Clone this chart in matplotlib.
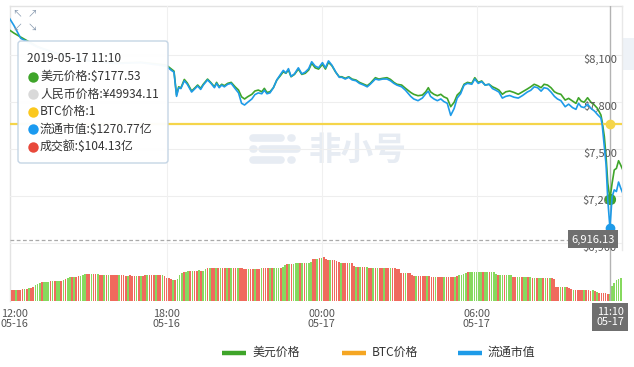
import numpy as np
import matplotlib
matplotlib.use("Agg")
import matplotlib.pyplot as plt
import matplotlib.transforms as mtransforms
from matplotlib.patches import FancyBboxPatch, Rectangle

plt.rcParams['font.family'] = ['Noto Sans CJK SC', 'DejaVu Sans']
plt.rcParams['text.parse_math'] = False

# ---------------- data (time = minutes after 05-16 12:00) ----------------
price_t = [-5, 5, 21, 60, 120, 180, 240, 300,
           359, 371, 377, 383, 388, 393, 401, 408, 418, 426, 432, 439, 445, 455, 463, 471, 476, 482, 488, 494,
           502, 510, 519, 527, 534, 541, 548, 558, 565, 573, 581, 587, 593, 600, 608, 616, 624, 631, 637, 643,
           649, 657, 666, 674, 682, 690, 697, 705, 713,
           722, 729, 736, 744, 753, 761, 767, 775, 783, 791, 800, 808, 818, 826, 833, 845, 853, 862, 872, 880,
           888, 895, 906, 915, 927, 934, 944, 954, 962, 968, 973, 981, 989, 997, 1004, 1012, 1020, 1028, 1035, 1043,
           1051, 1059, 1069, 1076, 1084, 1092, 1100, 1109, 1117, 1125, 1132, 1140, 1148, 1157, 1167, 1177, 1187,
           1198, 1206, 1214, 1222, 1230, 1237, 1245, 1253, 1261, 1268, 1276, 1286, 1294, 1303, 1311, 1317, 1323,
           1330, 1338, 1346, 1354, 1361, 1369, 1372, 1377, 1381, 1385, 1390, 1395, 1400, 1405, 1410, 1415, 1420]

usd_price = [8256, 8237, 8211, 8150, 8090, 8060, 8045, 8050,
             8033, 8007, 7994, 7841, 7894, 7886, 7941, 7918, 7867, 7888, 7905, 7884, 7910, 7943, 7920, 7894, 7922, 7894, 7910, 7901,
             7916, 7922, 7894, 7873, 7830, 7816, 7830, 7846, 7867, 7873, 7862, 7884, 7858, 7862, 7888, 7937, 7964, 7990, 7980, 8001,
             7958, 7973, 8007, 7973, 7980, 8001, 8044, 8015, 8007,
             8037, 8007, 8050, 8028, 7986, 7958, 7958, 7948, 7958, 7943, 7937, 7922, 7910, 7901, 7916, 7952, 7943, 7948, 7952, 7941,
             7922, 7910, 7905, 7884, 7858, 7846, 7837, 7841, 7862, 7888, 7862, 7846, 7837, 7846, 7830, 7820, 7767, 7795, 7841, 7862,
             7910, 7922, 7916, 7952, 7922, 7931, 7905, 7910, 7894, 7884, 7873, 7846, 7862, 7867, 7858, 7846, 7862,
             7880, 7894, 7910, 7901, 7888, 7910, 7905, 7888, 7862, 7852, 7846, 7809, 7820, 7803, 7788, 7824, 7803,
             7795, 7824, 7795, 7777, 7756, 7714, 7671, 7575, 7447, 7278, 7177.53, 7278, 7363, 7373, 7422, 7394, 7363]

market_cap = [1513, 1505, 1490, 1480, 1470, 1464, 1461, 1462,
              1458, 1453, 1451, 1423, 1433, 1432, 1441, 1437, 1428, 1432, 1435, 1431, 1436, 1442, 1438, 1433, 1438, 1433, 1436, 1434,
              1437, 1438, 1432, 1427, 1415, 1413, 1416, 1420, 1425, 1427, 1426, 1430, 1426, 1427, 1433, 1442, 1448, 1453, 1450, 1455,
              1446, 1449, 1456, 1449, 1451, 1455, 1463, 1458, 1456,
              1462, 1456, 1464, 1459, 1451, 1445, 1445, 1443, 1445, 1442, 1441, 1438, 1436, 1434, 1437, 1443, 1442, 1443, 1443, 1441,
              1438, 1436, 1434, 1430, 1423, 1420, 1418, 1421, 1426, 1429, 1423, 1420, 1418, 1420, 1417, 1415, 1401, 1409, 1421, 1426,
              1436, 1438, 1437, 1443, 1438, 1440, 1436, 1437, 1432, 1430, 1428, 1421, 1423, 1424, 1422, 1421, 1424,
              1428, 1430, 1434, 1433, 1429, 1433, 1432, 1428, 1423, 1420, 1418, 1411, 1414, 1410, 1408, 1415, 1411,
              1410, 1414, 1409, 1406, 1402, 1398, 1390, 1365, 1344, 1303, 1270.77, 1307, 1315, 1313, 1324, 1317, 1311]

btc_t = [-5, 1420]
btc_price = [1, 1]

vol_t0, vol_step = -5, 5
volume = [106.6,
 106.6,106.4,106.8,106.5,106.9,107.0,107.3,107.1,107.6,107.9,108.2,109.4,
 110.2,111.0,111.4,111.3,111.6,111.5,111.8,112.0,111.9,112.1,112.0,112.3,
 112.6,113.2,113.9,114.4,114.6,114.5,114.4,114.8,115.3,115.7,116.0,116.2,
 116.3,116.4,116.2,116.1,116.0,115.8,115.7,115.6,115.6,115.7,115.5,115.6,
 115.6,115.5,115.4,115.6,115.5,115.3,115.2,115.4,115.3,115.2,115.1,115.0,
 115.0,115.2,115.5,115.6,115.5,115.7,115.6,115.8,115.6,115.7,115.6,115.3,
 114.0,113.6,113.2,112.9,112.6,113.4,115.6,116.8,117.3,117.6,117.8,118.0,
 118.0,118.1,118.2,118.4,118.2,118.3,119.5,119.8,119.9,119.7,119.8,119.6,
 119.8,119.7,119.9,119.8,119.6,119.7,119.8,119.9,119.8,119.6,119.7,119.8,
 119.3,119.2,119.1,119.3,119.2,119.4,119.2,119.3,119.8,119.7,119.8,119.9,
 119.8,119.7,119.9,119.8,119.7,120.0,120.3,121.8,122.2,122.0,122.3,122.2,
 122.6,122.8,122.7,122.9,122.8,122.9,123.1,123.4,125.0,125.2,125.3,125.6,
 126.0,126.4,125.0,124.8,124.6,124.7,124.5,124.3,123.6,122.9,122.8,122.7,
 122.8,122.6,122.7,121.2,120.6,120.4,120.5,120.3,120.4,120.2,120.1,120.0,
 119.8,119.7,119.9,119.8,119.7,119.8,119.6,119.7,119.8,119.7,119.6,119.5,
 119.0,117.0,116.8,116.7,116.9,116.8,115.4,115.1,115.0,114.9,115.0,115.1,
 115.0,114.9,115.0,114.6,114.4,114.5,114.3,114.4,114.5,114.4,114.3,114.4,
 114.4,114.5,114.6,115.2,115.6,115.8,116.2,117.0,117.4,117.5,117.4,117.6,
 117.4,117.5,117.3,117.4,117.5,117.3,117.4,117.2,117.3,116.0,115.6,115.7,
 115.6,115.5,115.6,115.4,115.6,114.6,114.4,114.3,114.5,114.4,114.3,114.4,
 114.4,114.2,113.8,113.9,113.7,113.8,113.7,113.9,113.8,113.7,113.8,113.6,
 113.0,108.6,108.4,108.5,108.3,108.4,108.2,108.0,107.2,106.7,106.6,106.5,
 106.6,106.5,106.6,106.4,106.5,106.3,106.4,106.2,105.4,104.9,104.8,104.7,
 104.6,104.4,104.13,108.8,111.0,112.6,113.2,113.6]
vol_dir = ("r" + "rrgrrrgrgrrg" + "ggrgggrgrggr" + "grggrgrrgggr" + "rgrrgrrgrgrr" + "rrgrrrgrrrgr"
           + "grrgrrrgrrgr" + "rrrgrgggrggr" + "grrgrggrgrrg" + "rgrrgrgrrgrr" + "rrgrrgrrgrrr"
           + "grgggrggrgrg" + "ggrgrgggrrgr" + "grrrgrrrrgrr" + "rgrrgrgrrgrr" + "grgrrgrrgrrr"
           + "rrrgrrrrgrrr" + "rgrrrgrrrgrr" + "rrgrggggrggg" + "gggrggrgggrg" + "grgggrrggrgg"
           + "rgrgrggrgrgr" + "rrrgrgrrrgrr" + "rrgrrrgrgrrr" + "rrgggggg")

xtick_t = [0, 360, 720, 1080]
xtick_labels = ["12:00\n05-16", "18:00\n05-16", "00:00\n05-17", "06:00\n05-17"]
ytick_vals = [6900, 7200, 7500, 7800, 8100]

cursor_t = 1390
cursor_label = "11:10\n05-17"
pointer_value = 6916.13
tooltip_title = "2019-05-17 11:10"
tooltip_items = ["美元价格:$7177.53", "人民币价格:¥49934.11", "BTC价格:1", "流通市值:$1270.77亿", "成交额:$104.13亿"]
legend_names = ["美元价格", "BTC价格", "流通市值"]

# ---------------- styling ----------------
C_GREEN = "#3fa52a"
C_BLUE = "#1e9be8"
C_YELLOW = "#f5d54a"
C_ORANGE = "#f5a623"
C_BAR_G = "#86d95e"
C_BAR_R = "#f06a5d"
TXT = "#555555"

W, H = 634, 367
fig = plt.figure(figsize=(W / 100, H / 100), dpi=100)
fig.patch.set_facecolor("white")

L, R, T, B = 10, 622, 6, 301
VOL_TOP = 245
pos_main = [L / W, (H - B) / H, (R - L) / W, (B - T) / H]
pos_vol = [L / W, (H - B) / H, (R - L) / W, (B - VOL_TOP) / H]

XLIM = (-4, 1418)
PLIM = (6526.6, 8409.6)
MLIM = (PLIM[0] * 0.181 + 5.25, PLIM[1] * 0.181 + 5.25)
BLIM = (0, 1.662)
VLIM = (100, 133.6)

def bare(ax):
    ax.set_facecolor("none")
    for s in ax.spines.values():
        s.set_visible(False)
    ax.set_xticks([])
    ax.set_yticks([])

# background (watermark + frame)
ax_bg = fig.add_axes([0, 0, 1, 1], zorder=0)
ax_bg.set_xlim(0, W); ax_bg.set_ylim(H, 0); ax_bg.axis("off")
wm = "#e7ecf3"
for (x0, x1, y) in [(253, 281, 138), (262, 297, 149), (253, 281, 160)]:
    ax_bg.plot([x0, x1], [y, y], color=wm, lw=5.5, solid_capstyle="round")
for (x, y) in [(291, 138), (253, 149), (291, 160)]:
    ax_bg.plot([x, x + 0.5], [y, y], color=wm, lw=5.5, solid_capstyle="round")
ax_bg.text(309, 150, "非小号", fontsize=23.5, fontweight="bold", color=wm, va="center", ha="left")
ax_bg.plot([L, R], [T, T], color="#e3e3e3", lw=1)
ax_bg.plot([L, L], [T, B], color="#e3e3e3", lw=1)
ax_bg.plot([R, R], [T, 250], color="#e8e8e8", lw=1)
ax_bg.add_patch(Rectangle((R + 1, 38), 11, 32, fc="#eef2f7", ec="none"))

# grid axes
ax_g = fig.add_axes(pos_main, zorder=0.5)
bare(ax_g); ax_g.set_xlim(*XLIM); ax_g.set_ylim(*PLIM)
for v in ytick_vals:
    ax_g.axhline(v, color="#eeeeee", lw=0.8)
for t in xtick_t[1:]:
    ax_g.axvline(t, color="#f0f0f0", lw=0.8)

# volume
ax_v = fig.add_axes(pos_vol, zorder=1)
bare(ax_v)
n = min(len(volume), len(vol_dir))
vt = vol_t0 + vol_step * np.arange(n)
cols = [C_BAR_G if c == "g" else C_BAR_R for c in vol_dir[:n]]
ax_v.bar(vt, np.array(volume[:n]) - VLIM[0], bottom=VLIM[0], width=vol_step * 0.78, color=cols, linewidth=0)
ax_v.set_xlim(*XLIM); ax_v.set_ylim(*VLIM)
ax_v.set_xticks(xtick_t)
ax_v.set_xticklabels(xtick_labels, fontsize=7.8, color=TXT, linespacing=1.0)
ax_v.tick_params(axis="x", length=0, pad=6)
first = ax_v.get_xticklabels()[0]
first.set_transform(first.get_transform() + mtransforms.ScaledTranslation(3 / 100, 0, fig.dpi_scale_trans))

# price
ax_p = fig.add_axes(pos_main, zorder=2)
bare(ax_p); ax_p.set_xlim(*XLIM); ax_p.set_ylim(*PLIM)
m = min(len(price_t), len(usd_price))
ax_p.plot(price_t[:m], usd_price[:m], color=C_GREEN, lw=1.2, solid_joinstyle="round")
ax_p.axvline(cursor_t, color="#b3b3b3", lw=1, zorder=1)
ax_p.plot([XLIM[0], XLIM[0] + (XLIM[1] - XLIM[0]) * 0.912], [pointer_value, pointer_value],
          color="#aaaaaa", lw=0.9, ls=(0, (3, 2)))
lab_tr = mtransforms.offset_copy(mtransforms.blended_transform_factory(ax_p.transAxes, ax_p.transData),
                                 fig=fig, x=0, y=-3.5, units="points")
for v in ytick_vals:
    ax_p.text(0.9915, v, f"${v:,}", transform=lab_tr, ha="right", va="center", fontsize=8, color=TXT)
cur_i = price_t.index(cursor_t)
ax_p.plot([cursor_t], [usd_price[cur_i]], "o", color=C_GREEN, ms=7, zorder=5)

# btc
ax_b = fig.add_axes(pos_main, zorder=3)
bare(ax_b); ax_b.set_xlim(*XLIM); ax_b.set_ylim(*BLIM)
ax_b.plot(btc_t, btc_price, color=C_YELLOW, lw=1.6)
ax_b.plot([cursor_t], [btc_price[0]], "o", color=C_YELLOW, ms=6)

# market cap
ax_m = fig.add_axes(pos_main, zorder=4)
bare(ax_m); ax_m.set_xlim(*XLIM); ax_m.set_ylim(*MLIM)
k = min(len(price_t), len(market_cap))
ax_m.plot(price_t[:k], market_cap[:k], color=C_BLUE, lw=1.2, solid_joinstyle="round")
ax_m.plot([cursor_t], [market_cap[cur_i]], "o", color=C_BLUE, ms=6, zorder=5)

# overlay
ax_o = fig.add_axes([0, 0, 1, 1], zorder=10)
ax_o.set_xlim(0, W); ax_o.set_ylim(H, 0); ax_o.axis("off"); ax_o.set_facecolor("none")

for (x, y, s) in [(17, 13, "↖"), (32, 13, "↗"), (17, 28, "↙"), (32, 28, "↘")]:
    ax_o.text(x, y, s, fontsize=7, color="#8497ad", ha="center", va="center")

ax_o.add_patch(FancyBboxPatch((18, 41), 150, 122, boxstyle="round,pad=0,rounding_size=3",
                              fc="white", ec="#c3d4e4", lw=1, alpha=0.97))
ax_o.text(27, 58, tooltip_title, fontsize=8.6, color="#333333", va="center", ha="left")
dot_cols = [C_GREEN, "#d9d9d9", "#fbc81e", "#1a9af0", "#e8493b"]
for i, (s, c) in enumerate(zip(tooltip_items, dot_cols)):
    y = 77 + i * 17.4
    ax_o.plot([32.5], [y], "o", color=c, ms=7.5, mec="none")
    ax_o.text(40, y, s, fontsize=8.6, color="#333333", va="center", ha="left")

# pointer value label
ax_o.add_patch(Rectangle((568, 230), 50, 18, fc="#6f6f6f", ec="none"))
ax_o.text(593, 239.5, f"{pointer_value:,.2f}", fontsize=8, color="white", ha="center", va="center")
# cursor time label
ax_o.add_patch(Rectangle((592, 303), 36, 28, fc="#6f6f6f", ec="none"))
ax_o.text(610, 317, cursor_label, fontsize=7.8, color="white", ha="center", va="center", linespacing=1.0)

# legend
for (x0, name, c) in [(222, legend_names[0], C_GREEN), (342, legend_names[1], C_ORANGE), (458, legend_names[2], C_BLUE)]:
    ax_o.plot([x0, x0 + 24], [352.5, 352.5], color=c, lw=3.2, solid_capstyle="butt")
    ax_o.text(x0 + 30, 352.5, name, fontsize=8.6, color="#333333", va="center", ha="left")

fig.savefig("out.png", dpi=100, facecolor="white")
